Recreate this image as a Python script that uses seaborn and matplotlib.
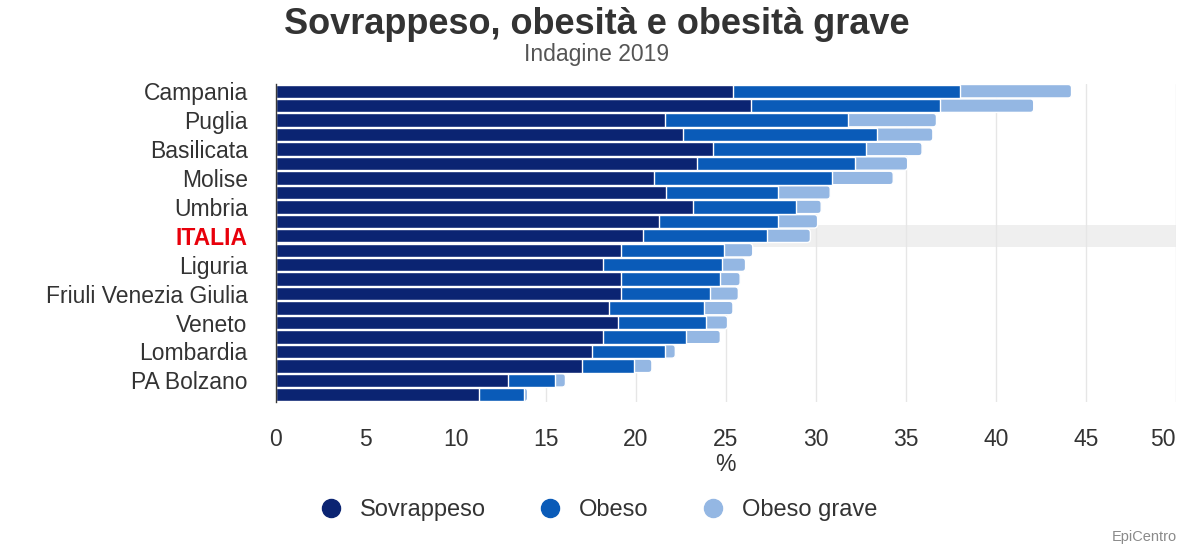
import matplotlib
matplotlib.use("Agg")
import matplotlib.pyplot as plt
import numpy as np
import pandas as pd
import seaborn as sns
from matplotlib.patches import FancyBboxPatch
from matplotlib.lines import Line2D

# Prevalenza (%) per regione, indagine 2019
regioni = [
    "Campania", "Calabria", "Puglia", "Sicilia", "Basilicata", "Abruzzo",
    "Molise", "Lazio", "Umbria", "Marche", "ITALIA", "Toscana", "Liguria",
    "Sardegna", "Friuli Venezia Giulia", "Piemonte", "Veneto",
    "Emilia-Romagna", "Lombardia", "Valle d'Aosta", "PA Bolzano", "PA Trento",
]
sovrappeso = [25.4, 26.4, 21.6, 22.6, 24.3, 23.4, 21.0, 21.7, 23.2, 21.3, 20.4,
              19.2, 18.2, 19.2, 19.2, 18.5, 19.0, 18.2, 17.6, 17.0, 12.9, 11.3]
obeso = [12.6, 10.5, 10.2, 10.8, 8.5, 8.8, 9.9, 6.2, 5.7, 6.6, 6.9,
         5.7, 6.6, 5.5, 4.9, 5.3, 4.9, 4.6, 4.0, 2.9, 2.6, 2.5]
obeso_grave = [6.2, 5.2, 4.9, 3.1, 3.1, 2.9, 3.4, 2.9, 1.4, 2.2, 2.4,
               1.6, 1.3, 1.1, 1.6, 1.6, 1.2, 1.9, 0.6, 1.0, 0.6, 0.2]
serie = ["Sovrappeso", "Obeso", "Obeso grave"]
colori = ["#0b2472", "#0a5bb8", "#94b7e3"]
x_ticks = list(range(0, 51, 5))

df = pd.DataFrame({"regione": regioni, "sov": sovrappeso,
                   "ob": obeso, "grave": obeso_grave})
df["fino_obeso"] = df["sov"] + df["ob"]
df["totale"] = df["fino_obeso"] + df["grave"]

sns.set_style("white")
plt.rcParams["font.family"] = ["Liberation Sans", "DejaVu Sans"]
TXT = "#333333"
FS = 16.5

W_PX, H_PX = 1189, 546
fig = plt.figure(figsize=(W_PX / 100, H_PX / 100), dpi=100)
left, right, top, bottom = 275.5, 1176, 84, 402
ax = fig.add_axes([left / W_PX, 1 - bottom / H_PX,
                   (right - left) / W_PX, (bottom - top) / H_PX])

# riga evidenziata per il dato nazionale
i_ita = regioni.index("ITALIA")
ax.axhspan(i_ita - 0.77, i_ita + 0.77, color="#efefef", lw=0, zorder=0)

# barre impilate: si disegnano i totali cumulati dal più lungo al più corto
layers = [("totale", colori[2]), ("fino_obeso", colori[1]), ("sov", colori[0])]
for k, (col, colore) in enumerate(layers):
    n0 = len(ax.patches)
    sns.barplot(data=df, x=col, y="regione", orient="h", color=colore,
                saturation=1, width=0.93, edgecolor="white", linewidth=1.0,
                ax=ax, zorder=2)
    if k == 0:
        # estremità arrotondata sul segmento finale
        x_upp = 50 / (right - left)
        y_upp = 22 / (bottom - top)
        r = 3.5 * x_upp
        for p in list(ax.patches[n0:]):
            x0, y0 = p.get_x(), p.get_y()
            w, h = p.get_width(), p.get_height()
            p.remove()
            ax.add_patch(FancyBboxPatch(
                (x0, y0), w, h,
                boxstyle=f"round,pad=0,rounding_size={r}",
                mutation_aspect=y_upp / x_upp,
                facecolor=colore, edgecolor="white", linewidth=1.0, zorder=2))

ax.set_xlim(0, 50)
ax.set_ylim(len(regioni) - 0.5, -0.5)
ax.set_xticks(x_ticks)
ax.set_xticklabels([str(t) for t in x_ticks])
ax.set_yticks(range(0, len(regioni), 2))
ax.set_yticklabels(regioni[::2])
ax.set_ylabel("")
ax.set_xlabel("%", fontsize=FS, color=TXT, labelpad=1)

ax.grid(axis="x", color="#e6e6e6", lw=1)
ax.grid(axis="y", visible=False)
ax.set_axisbelow(True)
for s in ["top", "right", "bottom"]:
    ax.spines[s].set_visible(False)
ax.spines["left"].set_color("#3a3a3a")
ax.spines["left"].set_linewidth(1)
ax.spines["left"].set_zorder(3)

ax.tick_params(axis="y", length=0, pad=20, labelsize=FS, labelcolor=TXT)
ax.tick_params(axis="x", length=0, pad=19, labelsize=FS, labelcolor=TXT)
ax.get_xticklabels()[-1].set_horizontalalignment("right")
for lab in ax.get_yticklabels():
    if lab.get_text() == "ITALIA":
        lab.set_color("#e8000b")
        lab.set_fontweight("bold")

fig.text(0.502, 1 - 24 / H_PX, "Sovrappeso, obesità e obesità grave",
         ha="center", va="center", fontsize=26, fontweight="bold", color=TXT)
fig.text(0.502, 1 - 54 / H_PX, "Indagine 2019", ha="center", va="center",
         fontsize=16.5, color="#555555")

handles = [Line2D([], [], marker="o", ls="", markersize=13,
                  markerfacecolor=c, markeredgecolor=c) for c in colori]
leg = fig.legend(handles, serie, loc="center", bbox_to_anchor=(0.503, 1 - 510 / H_PX),
                 ncol=3, frameon=False, fontsize=17, handletextpad=0.75,
                 columnspacing=2.2, handlelength=1.0)
for t in leg.get_texts():
    t.set_color(TXT)

fig.text(0.99, 0.004, "EpiCentro", ha="right", va="bottom",
         fontsize=10.5, color="#8a8a8a")

fig.savefig("out.png", dpi=100, facecolor="white")
